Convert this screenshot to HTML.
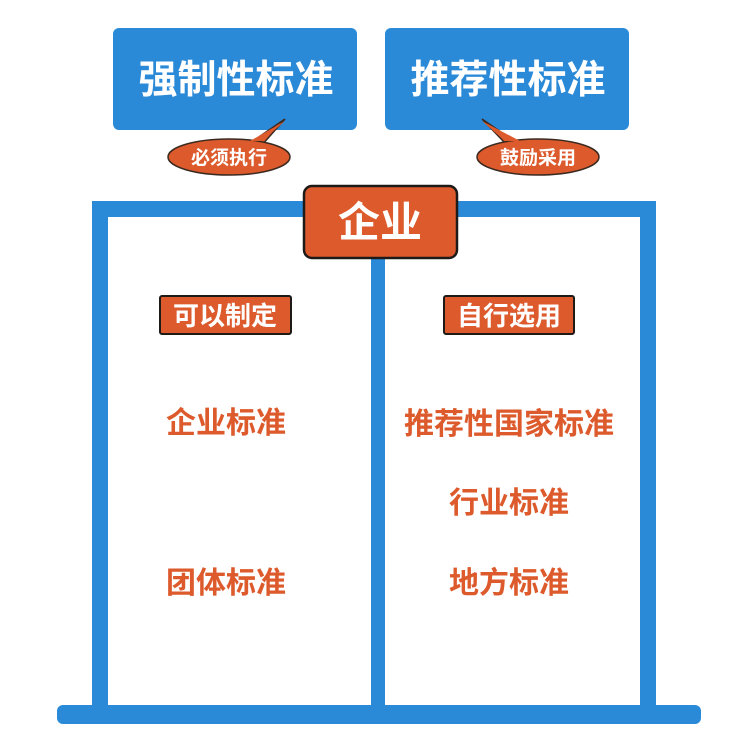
<!DOCTYPE html>
<html><head><meta charset="utf-8"><style>
html,body{margin:0;padding:0;background:#fff;}
</style></head><body>
<svg width="730" height="746" viewBox="0 0 730 746" xmlns="http://www.w3.org/2000/svg" style="display:block;font-family:'Liberation Sans','Noto Sans CJK SC',sans-serif;font-weight:bold">
<rect width="730" height="746" fill="#fff"/>
<rect x="113" y="28" width="244" height="102" rx="6" fill="#2b8ad8"/>
<rect x="385" y="28" width="244" height="102" rx="6" fill="#2b8ad8"/>
<text x="236" y="93" font-size="39" fill="#fff" text-anchor="middle">强制性标准</text>
<text x="508" y="93" font-size="39" fill="#fff" text-anchor="middle">推荐性标准</text>
<path d="M250 143 L285 119 L262 145 Z" fill="#dd5a2c" stroke="#3a2a20" stroke-width="1.5"/>
<ellipse cx="229" cy="157" rx="61" ry="18" fill="#dd5a2c" stroke="#3a2a20" stroke-width="1.5"/>
<path d="M250 141 L285 121 L262 141" fill="#dd5a2c"/>
<text x="229" y="164" font-size="19" fill="#fff" text-anchor="middle">必须执行</text>
<path d="M505 143 L482 119 L520 145 Z" fill="#dd5a2c" stroke="#3a2a20" stroke-width="1.5"/>
<ellipse cx="538" cy="157" rx="61" ry="18" fill="#dd5a2c" stroke="#3a2a20" stroke-width="1.5"/>
<path d="M505 141 L482 121 L520 141" fill="#dd5a2c"/>
<text x="538" y="164" font-size="19" fill="#fff" text-anchor="middle">鼓励采用</text>
<rect x="92" y="201" width="16" height="512" fill="#2b8ad8"/>
<rect x="640" y="201" width="16" height="512" fill="#2b8ad8"/>
<rect x="371" y="240" width="14" height="473" fill="#2b8ad8"/>
<rect x="92" y="201" width="564" height="16" fill="#2b8ad8"/>
<rect x="57" y="705" width="644" height="19" rx="6" fill="#2b8ad8"/>
<rect x="304" y="186" width="153" height="72" rx="8" fill="#dd5a2c" stroke="#1e1a18" stroke-width="2.5"/>
<text x="380" y="237" font-size="42" fill="#fff" text-anchor="middle">企业</text>
<rect x="160" y="296" width="131" height="38" rx="2" fill="#dd5a2c" stroke="#1e1a18" stroke-width="2"/>
<text x="225" y="325" font-size="26" fill="#fff" text-anchor="middle">可以制定</text>
<rect x="444" y="296" width="130" height="38" rx="2" fill="#dd5a2c" stroke="#1e1a18" stroke-width="2"/>
<text x="509" y="325" font-size="26" fill="#fff" text-anchor="middle">自行选用</text>
<g fill="#dd5a2c" font-size="30" text-anchor="middle">
<text x="226" y="433">企业标准</text>
<text x="226" y="593">团体标准</text>
<text x="509" y="434">推荐性国家标准</text>
<text x="509" y="513">行业标准</text>
<text x="509" y="593">地方标准</text>
</g>
</svg>
</body></html>
